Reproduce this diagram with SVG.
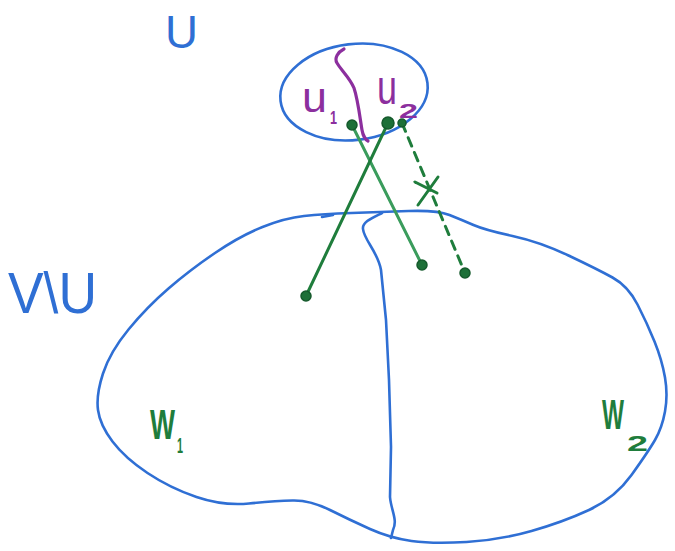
<svg xmlns="http://www.w3.org/2000/svg" width="675" height="551" viewBox="0 0 675 551">
<style>
.blue{fill:none;stroke:#2f6fd4;stroke-width:2.6;stroke-linecap:round;stroke-linejoin:round}
.bt{fill:#2f6fd4;font-family:"Liberation Sans",Arial,sans-serif}
.pt{fill:#8c2f9e;font-family:"Liberation Sans",Arial,sans-serif}
.gt{fill:#1f7d3c;font-family:"Liberation Sans",Arial,sans-serif;font-weight:bold}
.edge{fill:none;stroke-width:3;stroke-linecap:round}
.dot{fill:#1d7038;stroke:#155a2c;stroke-width:1.5}
</style>
<rect width="675" height="551" fill="#ffffff"/>
<g id="label-U"><text class="bt" x="165" y="48" font-size="46" textLength="33" lengthAdjust="spacingAndGlyphs">U</text></g>
<g id="label-VminusU"><text class="bt" x="8" y="313" font-size="58" textLength="89" lengthAdjust="spacingAndGlyphs">V\U</text></g>
<g id="set-U">
<ellipse class="blue" cx="354" cy="92" rx="74" ry="48" transform="rotate(-7 354 92)"/>
<path d="M344,49 C338,52 334,58 337,63 C341,70 350,78 354,88 C358,100 360,118 362,130 C363,136 366,140 368,141" fill="none" stroke="#8c2f9e" stroke-width="3.2" stroke-linecap="round"/>
<text class="pt"><tspan x="302" y="112" font-size="42" textLength="25" lengthAdjust="spacingAndGlyphs">u</tspan><tspan x="330" y="124" font-size="18" font-weight="bold" textLength="7" lengthAdjust="spacingAndGlyphs">1</tspan></text>
<text class="pt"><tspan x="377" y="104" font-size="48" textLength="20" lengthAdjust="spacingAndGlyphs">u</tspan><tspan x="399" y="118" font-size="20" font-weight="bold" textLength="19" lengthAdjust="spacingAndGlyphs">2</tspan></text>
</g>
<g id="set-VminusU">
<path class="blue" d="M304,216 Q323,214 351.5,213 Q380,212 408.5,211 Q437,210 449.5,215 Q462,220 473.5,225 Q485,230 512.5,236 Q540,242 568.5,255.5 Q597,269 612.5,277.5 Q628,286 637.5,304.5 Q647,323 654.5,341.5 Q662,360 665,377.5 Q668,395 665,411.5 Q662,428 655,440 Q648,452 631.5,475 Q615,498 589,510 Q563,522 531.5,531 Q500,540 466.5,542 Q433,544 411.5,541 Q390,538 370,529 Q350,520 330,510 Q310,500 292.5,500.5 Q275,501 249,503.5 Q223,506 196.5,497 Q170,488 147.5,473 Q125,458 112.5,441.5 Q100,425 98,410 Q96,395 103,373.5 Q110,352 128.5,329.5 Q147,307 168.5,288.5 Q190,270 215,253 Q240,236 262.5,227 Q285,218 304,216 Z"/>
<path class="blue" d="M322,217 L333,215"/>
<path class="blue" d="M382,213 C372,218 362,222 363,229 C364,240 378,252 381,270 L386,320 L389,380 L391,447 L390,497 C391,510 398,520 393,530 L391,538"/>
<text class="gt"><tspan x="150" y="439" font-size="42" textLength="25" lengthAdjust="spacingAndGlyphs">W</tspan><tspan x="177" y="453" font-size="22" textLength="6" lengthAdjust="spacingAndGlyphs">1</tspan></text>
<text class="gt"><tspan x="602" y="429" font-size="42" textLength="22" lengthAdjust="spacingAndGlyphs">W</tspan><tspan x="627" y="451" font-size="22" textLength="21" lengthAdjust="spacingAndGlyphs">2</tspan></text>
</g>
<g id="connectors">
<line class="edge" x1="352" y1="125" x2="422" y2="265" stroke="#3a9c5c"/>
<line class="edge" x1="388" y1="123" x2="306" y2="296" stroke="#1f7d3c"/>
<line class="edge" x1="402" y1="123" x2="465" y2="273" stroke="#1f7d3c" stroke-width="2.4" stroke-dasharray="9 7"/>
<line class="edge" x1="415" y1="182" x2="437" y2="193" stroke="#1f7d3c" stroke-width="2.6"/>
<line class="edge" x1="438" y1="177" x2="418" y2="205" stroke="#1f7d3c" stroke-width="2.6"/>
</g>
<g id="v-u1"><circle class="dot" cx="352" cy="125" r="5"/></g>
<g id="v-u2a"><circle class="dot" cx="388" cy="123" r="6"/></g>
<g id="v-u2b"><circle class="dot" cx="402" cy="123" r="4"/></g>
<g id="v-w2a"><circle class="dot" cx="422" cy="265" r="5"/></g>
<g id="v-w2b"><circle class="dot" cx="465" cy="273" r="5"/></g>
<g id="v-w1"><circle class="dot" cx="306" cy="296" r="5"/></g>
</svg>
